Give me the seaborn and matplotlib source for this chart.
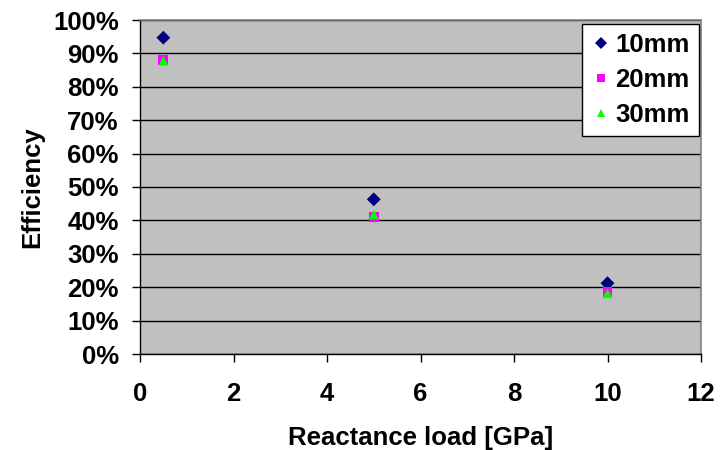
import matplotlib
matplotlib.use("Agg")
import matplotlib.pyplot as plt
import seaborn as sns
import pandas as pd
from matplotlib.ticker import PercentFormatter

loads = [0.5, 5, 10]
eff_10mm = [0.947, 0.463, 0.212]
eff_20mm = [0.880, 0.409, 0.185]
eff_30mm = [0.878, 0.418, 0.182]
series = ["10mm", "20mm", "30mm"]
colors = ["#000080", "#FF00FF", "#00FF00"]
markers = ["D", "s", "^"]

df = pd.DataFrame({
    "load": loads * 3,
    "eff": eff_10mm + eff_20mm + eff_30mm,
    "series": [s for s in series for _ in loads],
})

sns.set_theme(style="white")
plt.rcParams["font.family"] = ["Liberation Sans", "DejaVu Sans"]
plt.rcParams["font.weight"] = "bold"
plt.rcParams["text.color"] = "black"
plt.rcParams["axes.labelcolor"] = "black"
plt.rcParams["xtick.color"] = "black"
plt.rcParams["ytick.color"] = "black"

FS = 18.5

fig = plt.figure(figsize=(7.23, 4.5), dpi=100)
ax = fig.add_axes([140/723, 1-354/450, (701-140)/723, (354-20)/450])
ax.set_facecolor("#C0C0C0")

sns.scatterplot(data=df, x="load", y="eff", hue="series", style="series",
                palette=dict(zip(series, colors)), markers=dict(zip(series, markers)),
                s=50, edgecolor="none", linewidth=0, ax=ax, zorder=3)

ax.set_xlim(0, 12)
ax.set_ylim(0, 1.0)
ax.set_xticks(range(0, 13, 2))
ax.set_yticks([i/10 for i in range(11)])
ax.yaxis.set_major_formatter(PercentFormatter(1.0, decimals=0))
ax.grid(axis="y", color="black", linewidth=1.0)
ax.set_axisbelow(True)

for side in ["top", "right"]:
    ax.spines[side].set_color("#808080")
    ax.spines[side].set_linewidth(1.2)
for side in ["left", "bottom"]:
    ax.spines[side].set_color("black")
    ax.spines[side].set_linewidth(1.0)

ax.tick_params(axis="both", which="major", direction="out", length=5.8, width=1,
               color="black", labelcolor="black", labelsize=FS, left=True, bottom=True)
ax.tick_params(axis="x", pad=14.5)
ax.tick_params(axis="y", pad=9.5)
for lab in ax.get_xticklabels() + ax.get_yticklabels():
    lab.set_fontweight("bold")

ax.set_xlabel("Reactance load [GPa]", fontsize=FS, fontweight="bold", labelpad=14, color="black")
ax.set_ylabel("Efficiency", fontsize=FS, fontweight="bold", labelpad=6, color="black")

handles, labels = ax.get_legend_handles_labels()
leg = ax.legend(handles, labels, loc="upper right", bbox_to_anchor=(0.9965, 0.989),
                borderaxespad=0,
                frameon=True, fancybox=False, framealpha=1, edgecolor="black",
                facecolor="white", prop={"size": FS, "weight": "bold"},
                handletextpad=0.15, labelspacing=0.42, borderpad=0.36,
                handlelength=0.8, markerscale=0.85)
leg.get_frame().set_linewidth(1.0)
for t in leg.get_texts():
    t.set_color("black")

fig.savefig("out.png", dpi=100)
